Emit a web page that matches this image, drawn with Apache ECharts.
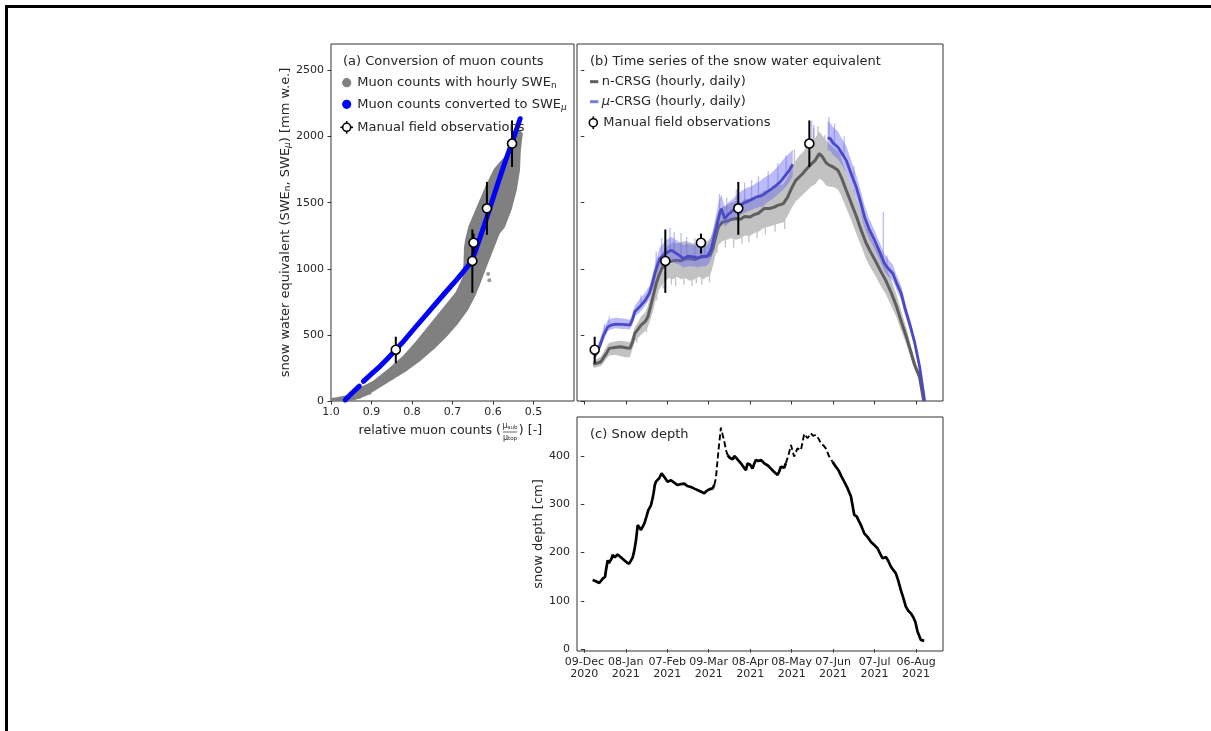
<!DOCTYPE html>
<html><head><meta charset="utf-8">
<script src="https://cdn.jsdelivr.net/npm/echarts@6/dist/echarts.min.js"></script>
<style>html,body{margin:0;padding:0;background:#fff}#c{width:1211px;height:731px}</style>
</head><body><div id="c"></div>
<script>
// ---------- tick labels ----------
const sweTicks = [0, 500, 1000, 1500, 2000, 2500];
const muonTicks = [1.0, 0.9, 0.8, 0.7, 0.6, 0.5];
const depthTicks = [0, 100, 200, 300, 400];
const tickDays = [0, 30, 60, 90, 120, 150, 180, 210, 240]; // days since 09-Dec-2020
const tickDates = ['09-Dec\n2020','08-Jan\n2021','07-Feb\n2021','09-Mar\n2021','08-Apr\n2021','08-May\n2021','07-Jun\n2021','07-Jul\n2021','06-Aug\n2021'];

// ---------- manual field observations ----------
const obsDay  = [7.5, 58.6, 84.4, 111.4, 162.8];
const obsMuon = [0.840, 0.651, 0.648, 0.615, 0.553];
const obsSWE  = [388, 1059, 1197, 1457, 1947];
const obsLo   = [285, 818, 1115, 1257, 1770];
const obsHi   = [486, 1297, 1266, 1657, 2122];

// ---------- panel (a): hourly muon counts vs SWE_n (outline of the dense point cloud) ----------
const cloudUpper = [[1.0,0],[1.0,12],[0.985,18],[0.96,35],[0.945,60],[0.928,90],[0.895,141],[0.854,241],[0.821,329],[0.788,442],[0.755,567],[0.722,693],[0.689,818],[0.672,930],[0.669,1050],[0.668,1160],[0.665,1220],[0.657,1320],[0.636,1471],[0.615,1621],[0.595,1747],[0.578,1810],[0.558,1873],[0.548,1990],[0.537,2040],[0.530,2020]];
const cloudLower = [[0.532,1973],[0.535,1898],[0.537,1747],[0.545,1596],[0.558,1446],[0.574,1320],[0.587,1270],[0.603,1145],[0.619,1019],[0.636,881],[0.648,793],[0.665,693],[0.689,592],[0.714,504],[0.747,404],[0.780,316],[0.813,241],[0.846,178],[0.879,115],[0.912,53],[0.94,20],[0.961,0]];
const cloudOutliers = [[0.609,913],[0.612,960],[0.905,60],[0.93,30]];
// muon counts converted to SWE_mu (null = gap)
const muonConv = [[0.965,8],[0.95,55],[0.930,112],null,[0.920,149],[0.90,205],[0.879,262],[0.86,322],[0.840,388],[0.82,455],[0.797,539],[0.77,635],[0.739,745],[0.715,830],[0.690,916],[0.670,990],[0.653,1054],[0.636,1200],[0.615,1390],[0.595,1580],[0.575,1765],[0.554,1947],[0.533,2135]];

// ---------- panel (b): n-CRSG ----------
const nDays  = [6.5,9,12,14,16,18,22,26,30,33,35,36.5,39,41,44,46,48.5,50,52,54,56,58,61,64,67,70,73,76,80,83,86,89,91,93,94.5,97,100,103,106,110,113,116,120,123,126,130,134,137,140,144,147,150,153,156,158,161,164,167,170,172,175,177.5,180,183.5,186,189.5,193,197,200,204,207,211,214,218,222,226,229,233,236,239,242.5,245.5];
const nDaily = [279,285,297,330,360,398,405,410,402,398,450,511,545,574,600,637,738,800,889,950,1002,1030,1052,1060,1065,1060,1075,1078,1070,1085,1090,1095,1103,1150,1216,1317,1354,1360,1372,1380,1375,1395,1392,1410,1420,1455,1455,1465,1480,1493,1540,1610,1669,1700,1720,1757,1790,1820,1871,1850,1800,1782,1770,1745,1690,1594,1500,1392,1300,1191,1130,1052,990,914,820,712,610,486,380,272,184,0];
const nHourlyLo = [250,255,265,290,320,345,350,340,330,330,400,450,480,500,530,560,640,690,780,840,880,900,930,920,940,920,930,910,920,940,920,940,950,1020,1090,1180,1210,1220,1230,1220,1230,1250,1250,1270,1280,1310,1320,1330,1340,1350,1400,1460,1510,1540,1560,1590,1620,1640,1680,1670,1630,1620,1620,1600,1550,1460,1370,1260,1180,1070,1010,940,880,810,720,630,540,430,330,235,150,0];
const nHourlyHi = [300,320,335,370,410,440,450,455,450,445,500,560,600,640,670,720,820,890,980,1060,1110,1150,1180,1200,1190,1200,1210,1200,1190,1210,1200,1210,1230,1280,1340,1440,1470,1480,1500,1510,1500,1530,1530,1540,1560,1590,1600,1610,1630,1640,1690,1760,1820,1860,1880,1920,1950,1990,2040,2010,1970,1940,1920,1890,1830,1730,1630,1520,1430,1310,1250,1160,1100,1020,920,800,690,550,430,310,215,20];
// visible hourly excursions: [day, low, high]
const nSpikes = [[38,440,560],[45,520,640],[52.5,760,900],[57,850,1020],[63,880,1060],[66,870,1070],[72,880,1080],[78,870,1080],[81,890,1070],[85,880,1090],[90.5,900,1100],[96,1120,1300],[102,1160,1360],[108,1160,1380],[114,1190,1380],[119,1200,1400],[125,1230,1420],[131,1260,1450],[138,1280,1470],[145,1300,1500],[152,1650,1900],[160,1750,1960],[166,1820,2060],[169,1850,2080],[174,1800,2010],[185,1720,1900],[195,1420,1600],[205,1140,1300],[213,960,1100]];

// ---------- panel (b): mu-CRSG (null = gap) ----------
const muDays  = [7.5,9,11,14,17,20,23,27,30,33,35,36.5,40,44,47,49,51,53,54.5,58,61,63,66,69,71.5,75,79,82,85,88,90,92,94,95.6,97.5,99.2,101.6,104,107.7,111,114,117.3,120,122,124.5,127,129,132,135,138.8,142,145,148,150.8,163,176,178,180,183.4,186,189.5,193,196.7,200,202.7,206,210,214,217.2,220,223.2,226,229.3,232,235.3,238.9,242.6,246.2];
const muDaily = [335,370,410,500,561,575,582,580,578,574,620,675,712,760,813,880,964,1030,1078,1110,1130,1140,1120,1100,1078,1095,1090,1080,1095,1090,1110,1153,1250,1317,1400,1455,1380,1410,1443,1470,1490,1506,1518,1530,1543,1550,1556,1580,1600,1631,1660,1700,1740,1790,null,1990,1985,1950,1921,1880,1820,1720,1619,1500,1392,1300,1216,1120,1040,1000,964,890,813,700,587,448,259,0];
const muHourlyLo = [310,340,380,460,530,545,550,545,545,540,580,640,670,720,770,830,900,970,1010,1040,1060,1060,1040,1030,1010,1020,1020,1010,1020,1020,1040,1080,1170,1240,1320,1370,1320,1340,1370,1400,1410,1430,1440,1450,1460,1470,1470,1500,1520,1550,1580,1610,1650,1700,null,1900,1890,1860,1830,1790,1730,1630,1530,1420,1310,1230,1150,1060,980,940,910,840,760,650,545,410,230,0];
const muHourlyHi = [370,410,460,550,610,625,630,625,620,615,670,720,770,820,870,940,1030,1100,1160,1200,1230,1240,1220,1200,1180,1190,1180,1170,1180,1170,1190,1240,1340,1420,1520,1560,1470,1500,1530,1570,1590,1610,1620,1630,1650,1660,1680,1700,1720,1760,1800,1840,1870,1900,null,2120,2100,2070,2040,1990,1930,1820,1710,1590,1480,1380,1290,1190,1110,1070,1030,950,870,750,630,485,290,20];
const muSpikes = [[14.5,500,580],[18,560,640],[41,712,800],[52,1000,1130],[56,1090,1230],[62,1140,1310],[65,1120,1280],[70,1100,1270],[74,1090,1240],[80,1090,1230],[87,1090,1220],[97.8,1400,1565],[103,1400,1540],[110,1460,1600],[116,1500,1650],[121,1520,1670],[126,1545,1700],[133,1580,1740],[140,1640,1800],[146,1700,1860],[164.5,1960,2120],[166,1980,2090],[177,1980,2150],[181,1940,2100],[188,1850,2000],[195,1650,1780],[216.3,1040,1430],[219,1000,1100]];

// ---------- panel (c): snow depth (dashed flag = 1) ----------
const depthDays = [6,8,10.8,12,13.3,15,15.7,16.9,17.8,18.8,19.8,20.5,22,22.9,24,25.3,27,28.9,31,32.5,33.7,35,36.2,37.4,38.6,39.5,41,42,43.4,45,46.3,48.2,49.2,50.1,51,51.8,54.2,55.9,57.8,60.2,62.7,65,67.5,70,72.3,74.5,77.1,80,83,86.8,88.5,90.4,92.8,94,
  95.2,97,98.8,100,101.3,102.5,
  103.7,105,107.3,108.5,110,113.3,115,116.9,118.1,120,121.7,123,124.2,126,127.8,130.2,133,135,137,139.8,141,142.2,143.5,144.6,145.8,
  147.5,149.5,151.8,154.2,156.7,159.1,161.5,163.9,165.5,167.5,169.5,171.1,173,174.7,177,
  179.6,182,184,186,188,190.5,192.9,195.3,197,200.1,202.5,205,207.4,210,212.1,214,215.8,217,218.2,220,221.8,223.5,225.4,227,229,231,232.6,234.5,236.3,238,239.5,241.1,243.5,245.9];
const depthCm = [143,141,137,140,146,150,164,184,178,174,188,195,190,191,196,195,189,184,179,177,173,190,205,226,257,255,247,250,260,275,288,298,310,323,340,347,354,364,357,347,350,345,340,342,343,338,336,332,328,323,328,331,333,340,
  354,410,459,445,430,412,
  402,397,393,400,396,385,378,371,385,382,374,385,392,390,392,385,380,374,368,361,368,378,376,376,385,
  400,423,399,416,412,446,437,447,442,444,436,426,422,416,400,
  388,378,370,358,347,333,316,278,275,257,240,232,222,215,209,198,188,188,191,182,171,164,157,143,122,104,88,79,74,66,56,36,19,17];
const depthDashed = [].concat(Array(54).fill(0), Array(6).fill(1), Array(25).fill(0), Array(15).fill(1), Array(34).fill(0));

// ---------- build ----------
const TXT = '#262626', AX = '#333', FF = 'DejaVu Sans';
const GRAY = '#808080';
const N_HOURLY = '#c2c2c2', MU_HOURLY = 'rgba(105,105,240,0.45)';
function pairs(days, vals){ return days.map((d,i)=> vals[i]==null ? ['-','-'] : [d, vals[i]]); }
function bandPolys(days, lo, hi){
  const polys = []; let cur = null;
  days.forEach((d,i)=>{
    if (lo[i]==null){ if(cur){polys.push(cur);} cur=null; return; }
    if(!cur) cur = {up:[], dn:[]};
    cur.up.push([d, hi[i]]); cur.dn.push([d, lo[i]]);
  });
  if(cur) polys.push(cur);
  return polys.map(p => p.up.concat(p.dn.slice().reverse()));
}
function polySeries(xi, polys, fill, z, anchor, stroke, lw){
  return {type:'custom', xAxisIndex:xi, yAxisIndex:xi, z:z, silent:true, clip:true, data:[anchor],
    renderItem:(params, api)=>({type:'group', children: polys.map(pts=>({type:'polygon',
      shape:{points: pts.map(p=>api.coord(p))},
      style:{fill:fill, stroke: stroke||null, lineWidth: lw||0, lineJoin:'round'}}))})};
}
function vbarSeries(xi, data, color, width, z){
  return {type:'custom', xAxisIndex:xi, yAxisIndex:xi, z:z, silent:true, clip:true, data:data,
    encode:{x:0, y:[1,2]},
    renderItem:(params, api)=>{
      const x = api.value(0);
      const a = api.coord([x, api.value(1)]), b = api.coord([x, api.value(2)]);
      return {type:'line', shape:{x1:a[0], y1:a[1], x2:b[0], y2:b[1]}, style:{stroke:color, lineWidth:width}};
    }};
}
const obsBarsA = obsMuon.map((x,i)=>[x, obsLo[i], obsHi[i]]);
const obsBarsB = obsDay.map((x,i)=>[x, obsLo[i], obsHi[i]]);
const obsPtsA = obsMuon.map((x,i)=>[x, obsSWE[i]]);
const obsPtsB = obsDay.map((x,i)=>[x, obsSWE[i]]);

const solidData = [], dashData = [];
depthDays.forEach((d,i)=>{
  const fl = depthDashed[i];
  solidData.push(fl===0 ? [d, depthCm[i]] : ['-','-']);
  const near = fl===1 || depthDashed[i-1]===1 || depthDashed[i+1]===1;
  dashData.push(near ? [d, depthCm[i]] : ['-','-']);
});

const tickLbl = {fontFamily:FF, fontSize:11, color:TXT};
function xAx(grid, extra){ return Object.assign({gridIndex:grid, type:'value', axisLine:{show:false}, splitLine:{show:false},
  axisTick:{show:true, length:3.5, lineStyle:{color:AX, width:1}}}, extra); }

const option = {
  animation:false,
  grid:[
    {left:331, top:44, width:243, height:357, show:true, borderColor:AX, borderWidth:1, backgroundColor:'transparent'},
    {left:577, top:44, width:366, height:357, show:true, borderColor:AX, borderWidth:1, backgroundColor:'transparent'},
    {left:577, top:417, width:366, height:234, show:true, borderColor:AX, borderWidth:1, backgroundColor:'transparent'}
  ],
  xAxis:[
    xAx(0,{min:0.4, max:1.0, inverse:true,
      axisTick:{show:true, length:3.5, customValues:muonTicks, lineStyle:{color:AX}},
      axisLabel:Object.assign({customValues:muonTicks, margin:6, formatter:v=>Number(v).toFixed(1)}, tickLbl)}),
    xAx(1,{min:-5.3, max:259.5,
      axisTick:{show:true, length:3.5, customValues:tickDays, lineStyle:{color:AX}},
      axisLabel:{show:false}}),
    xAx(2,{min:-5.3, max:259.5,
      axisTick:{show:true, length:3.5, customValues:tickDays, lineStyle:{color:AX}},
      axisLabel:Object.assign({customValues:tickDays, margin:5, lineHeight:12, fontSize:11,
        formatter:v=>{const k=tickDays.indexOf(Math.round(v)); return k>=0?tickDates[k]:'';}}, {fontFamily:FF, color:TXT})})
  ],
  yAxis:[
    {gridIndex:0, type:'value', min:0, max:2700, splitLine:{show:false}, axisLine:{show:false},
     axisTick:{show:true, length:3.5, customValues:sweTicks, lineStyle:{color:AX}},
     axisLabel:Object.assign({customValues:sweTicks, margin:7, formatter:v=>String(Math.round(v))}, tickLbl),
     name:'snow water equivalent (SWE{s|n}, SWE{m|μ}) [mm w.e.]', nameLocation:'middle', nameGap:39,
     nameTextStyle:{fontFamily:FF, fontSize:13, color:TXT,
       rich:{s:{fontFamily:FF, fontSize:9, color:TXT, verticalAlign:'bottom', lineHeight:9, padding:[4,0,0,0]},
             m:{fontFamily:FF, fontSize:9, fontStyle:'italic', color:TXT, verticalAlign:'bottom', lineHeight:9, padding:[4,0,0,0]}}}},
    {gridIndex:1, type:'value', min:0, max:2700, splitLine:{show:false}, axisLine:{show:false},
     axisTick:{show:true, length:3.5, customValues:sweTicks, lineStyle:{color:AX}}, axisLabel:{show:false}},
    {gridIndex:2, type:'value', min:-4, max:481, splitLine:{show:false}, axisLine:{show:false},
     axisTick:{show:true, length:3.5, customValues:depthTicks, lineStyle:{color:AX}},
     axisLabel:Object.assign({customValues:depthTicks, margin:7, formatter:v=>String(Math.round(v))}, tickLbl),
     name:'snow depth [cm]', nameLocation:'middle', nameGap:31,
     nameTextStyle:{fontFamily:FF, fontSize:13, color:TXT}}
  ],
  series:[
    // (a)
    polySeries(0, [cloudUpper.concat(cloudLower)], GRAY, 2, [0.7,500], GRAY, 3),
    {type:'scatter', xAxisIndex:0, yAxisIndex:0, z:2, data:cloudOutliers, symbolSize:4, itemStyle:{color:GRAY}, silent:true},
    {type:'line', xAxisIndex:0, yAxisIndex:0, z:3, data:muonConv.map(p=>p?p:['-','-']), showSymbol:false, symbol:'none',
     lineStyle:{color:'#0000ff', width:5, cap:'round', join:'round'}, connectNulls:false, silent:true},
    vbarSeries(0, obsBarsA, '#000', 2, 5),
    {type:'scatter', xAxisIndex:0, yAxisIndex:0, z:6, data:obsPtsA, symbol:'circle', symbolSize:9,
     itemStyle:{color:'#fff', borderColor:'#000', borderWidth:1.6, opacity:1}, silent:true},
    // (b)
    polySeries(1, bandPolys(nDays, nHourlyLo, nHourlyHi), N_HOURLY, 1, [100,1000]),
    vbarSeries(1, nSpikes, N_HOURLY, 1.3, 1),
    {type:'line', xAxisIndex:1, yAxisIndex:1, z:2, data:pairs(nDays, nDaily), showSymbol:false, symbol:'none',
     lineStyle:{color:'#5e5e5e', width:3}, silent:true},
    polySeries(1, bandPolys(muDays, muHourlyLo, muHourlyHi), MU_HOURLY, 3, [100,1000]),
    vbarSeries(1, muSpikes, MU_HOURLY, 1.3, 3),
    {type:'line', xAxisIndex:1, yAxisIndex:1, z:4, data:pairs(muDays, muDaily), showSymbol:false, symbol:'none',
     connectNulls:false, lineStyle:{color:'#4a4ac6', width:2.8}, silent:true},
    vbarSeries(1, obsBarsB, '#000', 2, 5),
    {type:'scatter', xAxisIndex:1, yAxisIndex:1, z:6, data:obsPtsB, symbol:'circle', symbolSize:9,
     itemStyle:{color:'#fff', borderColor:'#000', borderWidth:1.6, opacity:1}, silent:true},
    // (c)
    {type:'line', xAxisIndex:2, yAxisIndex:2, z:3, data:solidData, showSymbol:false, symbol:'none', connectNulls:false,
     lineStyle:{color:'#000', width:2.7}, silent:true},
    {type:'line', xAxisIndex:2, yAxisIndex:2, z:3, data:dashData, showSymbol:false, symbol:'none', connectNulls:false,
     lineStyle:{color:'#000', width:1.9, type:[6,3]}, silent:true}
  ],
  graphic:[
    // outer frame lines
    {type:'line', shape:{x1:5, y1:6.5, x2:1211, y2:6.5}, style:{stroke:'#000', lineWidth:3}},
    {type:'line', shape:{x1:6.5, y1:5, x2:6.5, y2:731}, style:{stroke:'#000', lineWidth:3}},
    // legend (a)
    {type:'text', x:343, y:61.7, style:{text:'(a) Conversion of muon counts', font:'13px DejaVu Sans', fill:TXT, verticalAlign:'middle'}, z:10},
    {type:'circle', shape:{cx:346.7, cy:82.7, r:4.6}, style:{fill:GRAY}, z:10},
    {type:'text', x:357.3, y:82.7, style:{text:'Muon counts with hourly SWE{s|n}', font:'13px DejaVu Sans', fill:TXT, verticalAlign:'middle',
      rich:{s:{font:'9px DejaVu Sans', fill:TXT, padding:[6,0,0,0]}}}, z:10},
    {type:'circle', shape:{cx:346.7, cy:104.3, r:4.6}, style:{fill:'#0000ff'}, z:10},
    {type:'text', x:357.3, y:104.3, style:{text:'Muon counts converted to SWE{s|μ}', font:'13px DejaVu Sans', fill:TXT, verticalAlign:'middle',
      rich:{s:{font:'italic 9px DejaVu Sans', fill:TXT, padding:[6,0,0,0]}}}, z:10},
    {type:'line', shape:{x1:346.7, y1:121, x2:346.7, y2:133.6}, style:{stroke:'#000', lineWidth:1.6}, z:10},
    {type:'line', shape:{x1:340.4, y1:127.3, x2:353, y2:127.3}, style:{stroke:'#000', lineWidth:1.6}, z:10},
    {type:'circle', shape:{cx:346.7, cy:127.3, r:4}, style:{fill:'#fff', stroke:'#000', lineWidth:1.6}, z:11},
    {type:'text', x:357.3, y:127.3, style:{text:'Manual field observations', font:'13px DejaVu Sans', fill:TXT, verticalAlign:'middle'}, z:10},
    // x label (a)
    {type:'text', x:501, y:431, style:{text:'relative muon counts (', font:'12.6px DejaVu Sans', fill:TXT, align:'right', verticalAlign:'middle'}},
    {type:'text', x:510, y:426, style:{text:'μ{s|sub}', font:'8px DejaVu Sans', fill:TXT, align:'center', verticalAlign:'middle',
      rich:{s:{font:'5.5px DejaVu Sans', fill:TXT, padding:[3,0,0,0]}}}},
    {type:'line', shape:{x1:503, y1:432, x2:517, y2:432}, style:{stroke:TXT, lineWidth:0.7}},
    {type:'text', x:510, y:437.5, style:{text:'μ{s|top}', font:'8px DejaVu Sans', fill:TXT, align:'center', verticalAlign:'middle',
      rich:{s:{font:'5.5px DejaVu Sans', fill:TXT, padding:[3,0,0,0]}}}},
    {type:'text', x:518.8, y:431, style:{text:') [-]', font:'12.6px DejaVu Sans', fill:TXT, align:'left', verticalAlign:'middle'}},
    // legend (b)
    {type:'text', x:590, y:61.7, style:{text:'(b) Time series of the snow water equivalent', font:'13px DejaVu Sans', fill:TXT, verticalAlign:'middle'}, z:10},
    {type:'line', shape:{x1:590, y1:81.7, x2:598.3, y2:81.7}, style:{stroke:'#5e5e5e', lineWidth:3}, z:10},
    {type:'text', x:601.7, y:81.7, style:{text:'n-CRSG (hourly, daily)', font:'13px DejaVu Sans', fill:TXT, verticalAlign:'middle'}, z:10},
    {type:'line', shape:{x1:590, y1:101.7, x2:598.3, y2:101.7}, style:{stroke:'#7c7cdc', lineWidth:3}, z:10},
    {type:'text', x:601.7, y:101.7, style:{text:'{i|μ}-CRSG (hourly, daily)', font:'13px DejaVu Sans', fill:TXT, verticalAlign:'middle',
      rich:{i:{font:'italic 13px DejaVu Sans', fill:TXT}}}, z:10},
    {type:'line', shape:{x1:593.3, y1:116.4, x2:593.3, y2:129}, style:{stroke:'#000', lineWidth:1.6}, z:10},
    {type:'circle', shape:{cx:593.3, cy:122.7, r:4}, style:{fill:'#fff', stroke:'#000', lineWidth:1.6}, z:11},
    {type:'text', x:603.3, y:122.7, style:{text:'Manual field observations', font:'13px DejaVu Sans', fill:TXT, verticalAlign:'middle'}, z:10},
    // legend (c)
    {type:'text', x:590, y:435, style:{text:'(c) Snow depth', font:'13px DejaVu Sans', fill:TXT, verticalAlign:'middle'}, z:10}
  ]
};
const chart = echarts.init(document.getElementById('c'), null, {renderer:'canvas'});
chart.setOption(option);
</script></body></html>
